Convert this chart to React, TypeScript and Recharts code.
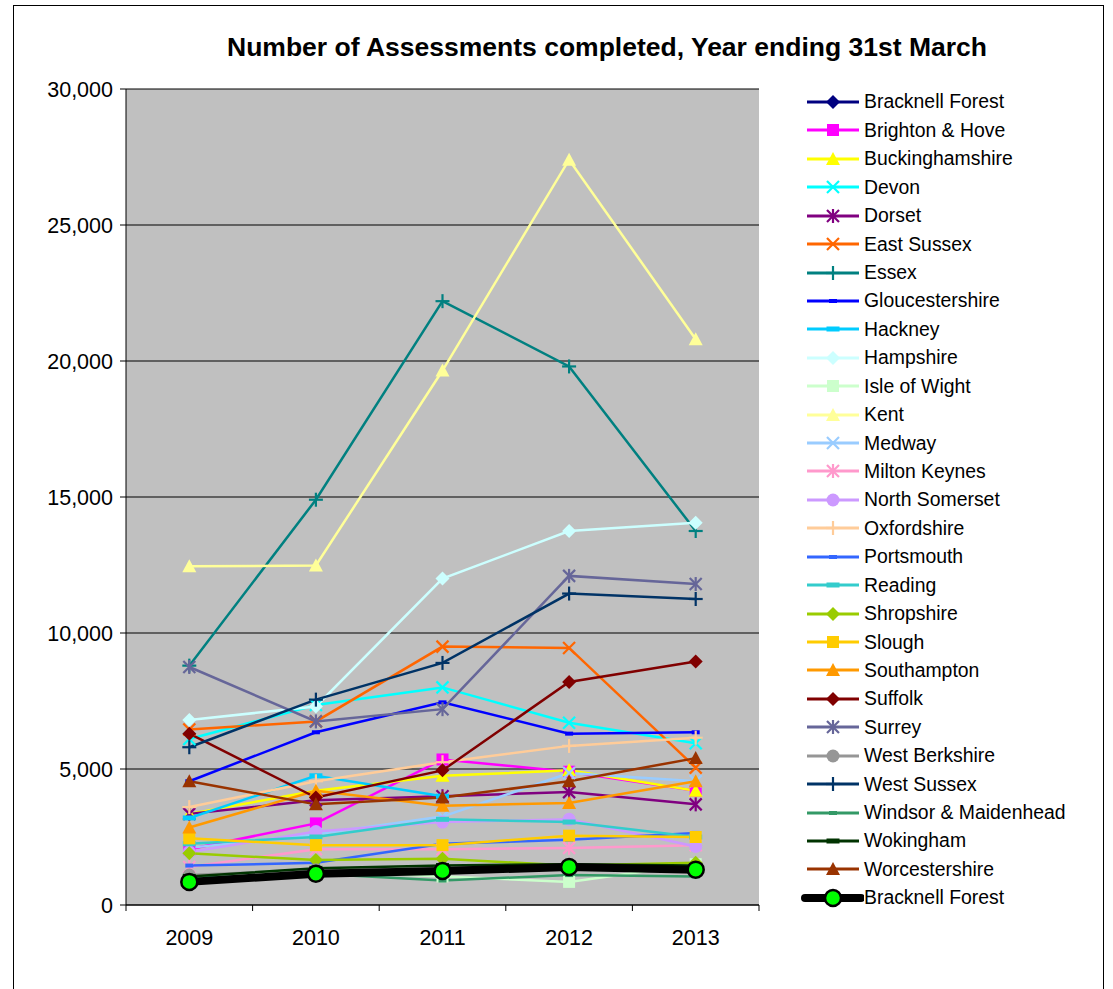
import React from "react";
import { LineChart, Line, XAxis, YAxis, CartesianGrid } from "recharts";

const years = [2009, 2010, 2011, 2012, 2013];
const yTicks = [0, 5000, 10000, 15000, 20000, 25000, 30000];
const xTicks = [2008.5, 2009, 2009.5, 2010, 2010.5, 2011, 2011.5, 2012, 2012.5, 2013, 2013.5];
const title = "Number of Assessments completed, Year ending 31st March";

const bracknellForest = [850, 1150, 1250, 1400, 1300];
const brightonHove = [2050, 3000, 5350, 4900, 4200];
const buckinghamshire = [3350, 4200, 4750, 4950, 4200];
const devon = [6100, 7350, 8000, 6700, 5950];
const dorset = [3350, 3850, 4000, 4150, 3700];
const eastSussex = [6450, 6750, 9500, 9450, 5050];
const essex = [8800, 14900, 22200, 19800, 13750];
const gloucestershire = [4550, 6350, 7450, 6300, 6350];
const hackney = [3200, 4750, 4000, null, null];
const hampshire = [6800, 7300, 12000, 13750, 14050];
const isleOfWight = [950, 1250, 1050, 850, 1500];
const kent = [12450, 12480, 19650, 27400, 20800];
const medway = [2100, 2600, 3250, 4850, 4550];
const miltonKeynes = [1400, 2050, 2050, 2100, 2200];
const northSomerset = [1950, 2700, 3050, 3150, 2150];
const oxfordshire = [3600, 4550, 5250, 5850, 6150];
const portsmouth = [1450, 1550, 2250, 2400, 2650];
const reading = [2250, 2500, 3150, 3050, 2500];
const shropshire = [1900, 1650, 1700, 1450, 1550];
const slough = [2450, 2200, 2200, 2550, 2500];
const southampton = [2850, 4200, 3650, 3750, 4550];
const suffolk = [6300, 3950, 4950, 8200, 8950];
const surrey = [8750, 6750, 7200, 12100, 11800];
const westBerkshire = [1100, 1300, 1350, 1450, 1350];
const westSussex = [5800, 7550, 8900, 11450, 11250];
const windsorMaidenhead = [1000, 1150, 900, 1100, 1050];
const wokingham = [1050, 1350, 1450, 1500, 1450];
const worcestershire = [4550, 3700, 3950, 4550, 5400];
const bracknellForestHighlight = [850, 1150, 1250, 1400, 1300];

type Shape = "diamond" | "square" | "triangle" | "x" | "star" | "plus" | "dashS" | "dashL" | "circle" | "bigcircle";

const series: { name: string; values: (number | null)[]; color: string; shape: Shape; width: number }[] = [
  { name: "Bracknell Forest", values: bracknellForest, color: "#000080", shape: "diamond", width: 2.5 },
  { name: "Brighton & Hove", values: brightonHove, color: "#FF00FF", shape: "square", width: 2.5 },
  { name: "Buckinghamshire", values: buckinghamshire, color: "#FFFF00", shape: "triangle", width: 2.5 },
  { name: "Devon", values: devon, color: "#00FFFF", shape: "x", width: 2.5 },
  { name: "Dorset", values: dorset, color: "#800080", shape: "star", width: 2.5 },
  { name: "East Sussex", values: eastSussex, color: "#FF6600", shape: "x", width: 2.5 },
  { name: "Essex", values: essex, color: "#008080", shape: "plus", width: 2.5 },
  { name: "Gloucestershire", values: gloucestershire, color: "#0000FF", shape: "dashS", width: 2.5 },
  { name: "Hackney", values: hackney, color: "#00CCFF", shape: "dashL", width: 2.5 },
  { name: "Hampshire", values: hampshire, color: "#CCFFFF", shape: "diamond", width: 2.5 },
  { name: "Isle of Wight", values: isleOfWight, color: "#CCFFCC", shape: "square", width: 2.5 },
  { name: "Kent", values: kent, color: "#FFFF99", shape: "triangle", width: 2.5 },
  { name: "Medway", values: medway, color: "#99CCFF", shape: "x", width: 2.5 },
  { name: "Milton Keynes", values: miltonKeynes, color: "#FF99CC", shape: "star", width: 2.5 },
  { name: "North Somerset", values: northSomerset, color: "#CC99FF", shape: "circle", width: 2.5 },
  { name: "Oxfordshire", values: oxfordshire, color: "#FFCC99", shape: "plus", width: 2.5 },
  { name: "Portsmouth", values: portsmouth, color: "#3366FF", shape: "dashS", width: 2.5 },
  { name: "Reading", values: reading, color: "#33CCCC", shape: "dashL", width: 2.5 },
  { name: "Shropshire", values: shropshire, color: "#99CC00", shape: "diamond", width: 2.5 },
  { name: "Slough", values: slough, color: "#FFCC00", shape: "square", width: 2.5 },
  { name: "Southampton", values: southampton, color: "#FF9900", shape: "triangle", width: 2.5 },
  { name: "Suffolk", values: suffolk, color: "#800000", shape: "diamond", width: 2.5 },
  { name: "Surrey", values: surrey, color: "#666699", shape: "star", width: 2.5 },
  { name: "West Berkshire", values: westBerkshire, color: "#969696", shape: "circle", width: 2.5 },
  { name: "West Sussex", values: westSussex, color: "#003366", shape: "plus", width: 2.5 },
  { name: "Windsor & Maidenhead", values: windsorMaidenhead, color: "#339966", shape: "dashS", width: 2.5 },
  { name: "Wokingham", values: wokingham, color: "#003300", shape: "dashL", width: 2.5 },
  { name: "Worcestershire", values: worcestershire, color: "#993300", shape: "triangle", width: 2.5 },
  { name: "Bracknell Forest", values: bracknellForestHighlight, color: "#000000", shape: "bigcircle", width: 8 },
];

const data = years.map((year, i) => {
  const row: Record<string, number | null> = { year };
  series.forEach((s, k) => {
    row["s" + k] = s.values[i];
  });
  return row;
});

const FONT = "'Liberation Sans', Arial, Helvetica, sans-serif";

function Marker({ shape, color, cx, cy }: { shape: Shape; color: string; cx: number; cy: number }) {
  switch (shape) {
    case "diamond":
      return <polygon points={`${cx},${cy - 7} ${cx + 7},${cy} ${cx},${cy + 7} ${cx - 7},${cy}`} fill={color} />;
    case "square":
      return <rect x={cx - 6} y={cy - 6} width={12} height={12} fill={color} />;
    case "triangle":
      return <polygon points={`${cx},${cy - 7} ${cx + 7},${cy + 6} ${cx - 7},${cy + 6}`} fill={color} />;
    case "x":
      return (
        <g stroke={color} strokeWidth={2.2}>
          <line x1={cx - 6} y1={cy - 6} x2={cx + 6} y2={cy + 6} />
          <line x1={cx - 6} y1={cy + 6} x2={cx + 6} y2={cy - 6} />
        </g>
      );
    case "star":
      return (
        <g stroke={color} strokeWidth={2.2}>
          <line x1={cx - 6} y1={cy - 6} x2={cx + 6} y2={cy + 6} />
          <line x1={cx - 6} y1={cy + 6} x2={cx + 6} y2={cy - 6} />
          <line x1={cx} y1={cy - 7} x2={cx} y2={cy + 7} />
        </g>
      );
    case "plus":
      return (
        <g stroke={color} strokeWidth={2.2}>
          <line x1={cx - 7} y1={cy} x2={cx + 7} y2={cy} />
          <line x1={cx} y1={cy - 7} x2={cx} y2={cy + 7} />
        </g>
      );
    case "dashS":
      return <rect x={cx - 4} y={cy - 2} width={8} height={4} fill={color} />;
    case "dashL":
      return <rect x={cx - 6.5} y={cy - 2.5} width={13} height={5} fill={color} />;
    case "circle":
      return <circle cx={cx} cy={cy} r={6.5} fill={color} />;
    case "bigcircle":
      return <circle cx={cx} cy={cy} r={8} fill="#00FF00" stroke="#000" strokeWidth={2.5} />;
  }
  return null;
}

function makeDot(shape: Shape, color: string) {
  return (props: any) => {
    const { cx, cy, index } = props;
    if (cx == null || cy == null || props.value == null || (Array.isArray(props.value) && props.value[1] == null)) {
      return <g key={"d" + index} />;
    }
    return (
      <g key={"d" + index}>
        <Marker shape={shape} color={color} cx={cx} cy={cy} />
      </g>
    );
  };
}

function XTick(props: any) {
  const { x, y, payload } = props;
  const v = payload.value;
  if (Number.isInteger(v)) {
    return (
      <text x={x} y={y + 40} textAnchor="middle" fontSize={21.5} fontFamily={FONT} fill="#000">
        {v}
      </text>
    );
  }
  return <line x1={x} y1={y} x2={x} y2={y + 6} stroke="#000" strokeWidth={1} />;
}

function LegendBox() {
  const rowH = 28.43;
  return (
    <div style={{ position: "absolute", left: 800, top: 102 - rowH / 2, width: 310 }}>
      {series.map((s, i) => (
        <div key={i} style={{ height: rowH, display: "flex", alignItems: "center" }}>
          <svg width={64} height={20} style={{ flex: "none" }}>
            <line
              x1={s.shape === "bigcircle" ? 5 : 7}
              y1={10}
              x2={s.shape === "bigcircle" ? 61 : 59}
              y2={10}
              stroke={s.color}
              strokeWidth={s.shape === "bigcircle" ? 8 : 3}
              strokeLinecap={s.shape === "bigcircle" ? "round" : "butt"}
            />
            <Marker shape={s.shape} color={s.color} cx={33} cy={10} />
          </svg>
          <span style={{ fontFamily: FONT, fontSize: 19.4, color: "#000", whiteSpace: "nowrap", marginLeft: 0 }}>
            {s.name}
          </span>
        </div>
      ))}
    </div>
  );
}

export default function App() {
  return (
    <div
      style={{
        position: "absolute",
        left: 0,
        top: 0,
        width: 1113,
        height: 989,
        background: "#fff",
        overflow: "hidden",
      }}
    >
      <div
        style={{
          position: "absolute",
          left: 13,
          top: 5,
          width: 1089,
          height: 1100,
          border: "1px solid #000",
        }}
      />
      <div
        style={{
          position: "absolute",
          left: 0,
          top: 32,
          width: 1214,
          textAlign: "center",
          fontFamily: FONT,
          fontWeight: "bold",
          fontSize: 26.5,
          color: "#000",
          whiteSpace: "nowrap",
        }}
      >
        {title}
      </div>
      <div style={{ position: "absolute", left: 0, top: 0 }}>
        <LineChart
          width={780}
          height={989}
          data={data}
          margin={{ top: 89, right: 21, bottom: 44, left: 0 }}
        >
          <CartesianGrid vertical={false} fill="#C0C0C0" stroke="#000" strokeWidth={1} horizontalValues={yTicks} />
          <XAxis
            type="number"
            dataKey="year"
            domain={[2008.5, 2013.5]}
            ticks={xTicks}
            interval={0}
            allowDecimals
            tickLine={false}
            tickSize={0}
            tickMargin={0}
            height={40}
            axisLine={{ stroke: "#000", strokeWidth: 1 }}
            tick={<XTick />}
          />
          <YAxis
            type="number"
            domain={[0, 30000]}
            ticks={yTicks}
            interval={0}
            width={126}
            tickSize={6}
            tickMargin={7}
            tickLine={{ stroke: "#000" }}
            axisLine={{ stroke: "#000", strokeWidth: 1 }}
            tick={{ fill: "#000", fontSize: 21.5, fontFamily: FONT }}
            tickFormatter={(v: number) => v.toLocaleString("en-US")}
          />
          {series.map((s, k) => (
            <Line
              key={k}
              type="linear"
              dataKey={"s" + k}
              name={s.name}
              stroke={s.color}
              strokeWidth={s.width}
              dot={makeDot(s.shape, s.color)}
              activeDot={false}
              isAnimationActive={false}
              connectNulls={false}
              legendType="none"
            />
          ))}
        </LineChart>
      </div>
      <LegendBox />
    </div>
  );
}
